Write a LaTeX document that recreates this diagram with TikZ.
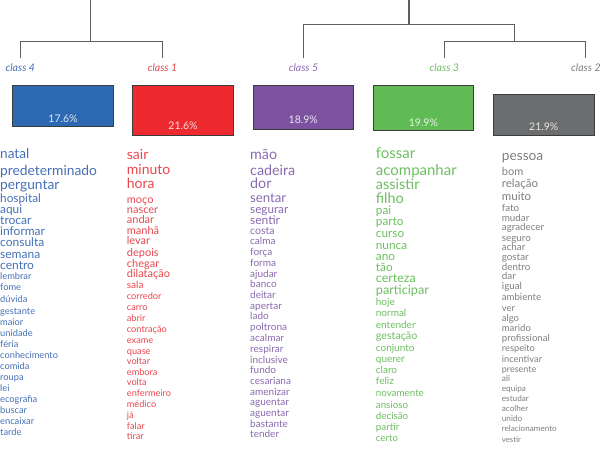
\documentclass[tikz,border=0pt]{standalone}
\usepackage{fontspec}
\setmainfont{Lato}
\begin{document}
\begin{tikzpicture}[x=1pt,y=-1pt,
    treeLine/.style={draw=treeColour, line width=1.1pt},
    classLabel/.style={font=\itshape\fontsize{10.5}{10.5}\selectfont, inner sep=0pt},
    classBox/.style={draw=borderColour, line width=0.9pt, inner sep=0pt},
    pctLabel/.style={font=\fontsize{10.5}{10.5}\selectfont, inner sep=0pt},
    wordItem/.style={anchor=mid west, inner sep=0pt}]
    \definecolor{treeColour}{HTML}{5E5E5E}
    \definecolor{borderColour}{HTML}{3C3C3C}
    \definecolor{boxFour}{HTML}{2D69B3}
    \definecolor{boxOne}{HTML}{ED2A2F}
    \definecolor{boxFive}{HTML}{7C52A0}
    \definecolor{boxThree}{HTML}{60BA56}
    \definecolor{boxTwo}{HTML}{6C6D6F}
    \definecolor{textFour}{HTML}{4470B6}
    \definecolor{textOne}{HTML}{E8474F}
    \definecolor{textFive}{HTML}{8A69AF}
    \definecolor{textThree}{HTML}{6CBE60}
    \definecolor{textTwo}{HTML}{7E7E7E}

    % Fix the page size
    \useasboundingbox (0,0) rectangle (600,451);

    % Define joints of the tree
    \coordinate (rootA) at (90.7,0);
    \coordinate (joinA) at (90.7,41.7);
    \coordinate (rootB) at (409,0);
    \coordinate (joinB) at (409,24.3);
    \coordinate (joinC) at (514.7,41.7);
    \coordinate (leaf4) at (20.3,57.7);
    \coordinate (leaf1) at (162.5,57.7);
    \coordinate (leaf5) at (303.5,57.7);
    \coordinate (leaf3) at (444.3,57.7);
    \coordinate (leaf2) at (585.9,57.7);

    % Draw tree
    \draw[treeLine] (rootA) -- (joinA);
    \draw[treeLine] (leaf4) |- (joinA) -| (leaf1);
    \draw[treeLine] (rootB) -- (joinB);
    \draw[treeLine] (leaf5) |- (joinB) -| (joinC);
    \draw[treeLine] (leaf3) |- (joinC) -| (leaf2);

    % Class labels
    \node[classLabel, text=textFour] (lab4) at (20.3,67.3) {class 4};
    \node[classLabel, text=textOne] (lab1) at (162.5,67.3) {class 1};
    \node[classLabel, text=textFive] (lab5) at (303.5,67.3) {class 5};
    \node[classLabel, text=textThree] (lab3) at (444.3,67.3) {class 3};
    \node[classLabel, text=textTwo] (lab2) at (585.9,67.3) {class 2};

    % Draw boxes
    \node[classBox, fill=boxFour, minimum width=100.6, minimum height=41] (box4) at (63,105.5) {};
    \node[classBox, fill=boxOne, minimum width=100.7, minimum height=50] (box1) at (183,110) {};
    \node[classBox, fill=boxFive, minimum width=100.6, minimum height=44] (box5) at (303.3,107) {};
    \node[classBox, fill=boxThree, minimum width=100.8, minimum height=45.7] (box3) at (423.4,107.8) {};
    \node[classBox, fill=boxTwo, minimum width=100.3, minimum height=41] (box2) at (543.8,114.5) {};

    % Label boxes
    \node[pctLabel, text=white!85!boxFour] (pct4) at (63,118.3) {17.6\%};
    \node[pctLabel, text=white!85!boxOne] (pct1) at (183,126) {21.6\%};
    \node[pctLabel, text=white!85!boxFive] (pct5) at (303.3,119.3) {18.9\%};
    \node[pctLabel, text=white!85!boxThree] (pct3) at (423.4,122.3) {19.9\%};
    \node[pctLabel, text=white!85!boxTwo] (pct2) at (543.8,126.7) {21.9\%};

    % Words of class 4
    \foreach \wrd/\fs/\ypos [count=\i] in {natal/13.6/156, predeterminado/13.8/172.7, perguntar/13.8/186.7,
        hospital/11.8/200.3, aqui/11.8/211.3, trocar/12/221.9, informar/12/232.7, consulta/12/244,
        semana/12/255.7, centro/12/266.7, lembrar/9.3/277, fome/9.3/288, dúvida/9.3/300,
        gestante/9.3/312, maior/9.3/323, unidade/9.3/334, féria/9.3/345, conhecimento/9.3/356,
        comida/9.3/367, roupa/9.3/378, lei/9.3/389, ecografia/9.3/400, buscar/9.3/411,
        encaixar/9.3/422, tarde/9.3/433}
        \node[wordItem, text=textFour, font=\fontsize{\fs}{\fs}\selectfont] (w4-\i) at (0,\ypos) {\wrd};

    % Words of class 1
    \foreach \wrd/\fs/\ypos [count=\i] in {sair/14/156.7, minuto/14/172.3, hora/14/185.7,
        moço/11/200.7, nascer/11/211, andar/11/221.3, manhã/11/231.7, levar/11/242.3,
        depois/11/253.7, chegar/11/264.7, dilatação/11/275.3, sala/10/285.7, corredor/9.2/297,
        carro/9.2/308, abrir/9.2/318.7, contração/9.2/329.7, exame/9.2/340.7, quase/9.2/351.7,
        voltar/9.2/362.3, embora/9.2/372.7, volta/9.2/383.3, enfermeiro/9.2/394.3,
        médico/9.2/405.3, já/9.2/416.3, falar/9.2/426.7, tirar/9.2/437}
        \node[wordItem, text=textOne, font=\fontsize{\fs}{\fs}\selectfont] (w1-\i) at (126.7,\ypos) {\wrd};

    % Words of class 5
    \foreach \wrd/\fs/\ypos [count=\i] in {mão/14.3/157.3, cadeira/14.3/172.7, dor/14.3/186,
        sentar/13.2/199.6, segurar/11.7/211, sentir/12/221.5, costa/10.5/232, calma/10/242.3,
        força/10/253, forma/10/263.7, ajudar/10/274.7, banco/10/285, deitar/10/295.7,
        apertar/10/306.7, lado/10/317.3, poltrona/10/328.3, acalmar/10/339.3, respirar/10/350.3,
        inclusive/10/360.7, fundo/10/371, cesariana/10/381.7, amenizar/10/392.7,
        aguentar/10/403.3, aguentar/10/414.3, bastante/10/424.7, tender/10/435.3}
        \node[wordItem, text=textFive, font=\fontsize{\fs}{\fs}\selectfont] (w5-\i) at (250,\ypos) {\wrd};

    % Words of class 3
    \foreach \wrd/\fs/\ypos [count=\i] in {fossar/15/156, acompanhar/15/172.7, assistir/14.5/186.7,
        filho/14.5/200.5, pai/11.8/212, parto/11.8/223.3, curso/11.8/234.7, nunca/11.8/246.5,
        ano/11.8/257.5, tão/11.8/268.7, certeza/12.5/280, participar/12.7/292, hoje/10/303.3,
        normal/10/314.3, entender/10/325.7, gestação/10.7/337.3, conjunto/10/348.7,
        querer/10/360, claro/10/371, feliz/10/382.3, novamente/9.8/394.3, ansioso/9.8/405.7,
        decisão/9.8/416.7, partir/9.8/428, certo/9.7/439.3}
        \node[wordItem, text=textThree, font=\fontsize{\fs}{\fs}\selectfont] (w3-\i) at (375.7,\ypos) {\wrd};

    % Words of class 2
    \foreach \wrd/\fs/\ypos [count=\i] in {pessoa/13.7/158.3, bom/11/172.7, relação/11.5/185,
        muito/11.5/198.3, fato/9.8/209.3, mudar/9.8/218.7, agradecer/9.8/228.3, seguro/9.8/238.7,
        achar/9.8/248, gostar/9.8/258, dentro/9.8/267.7, dar/9.8/277, igual/9.8/286.7,
        ambiente/9.6/297.5, ver/9.5/309, algo/9.5/319.3, marido/9.5/329.3,
        profissional/9.6/339.3, respeito/9.3/349.3, incentivar/9.3/359.7, presente/9/369.7,
        ali/8.5/379.3, equipa/8.2/389.3, estudar/8.2/399, acolher/8.2/409, unido/8.2/419.3,
        relacionamento/8.1/429.3, vestir/7.8/439.7}
        \node[wordItem, text=textTwo, font=\fontsize{\fs}{\fs}\selectfont] (w2-\i) at (501.7,\ypos) {\wrd};

\end{tikzpicture}
\end{document}
